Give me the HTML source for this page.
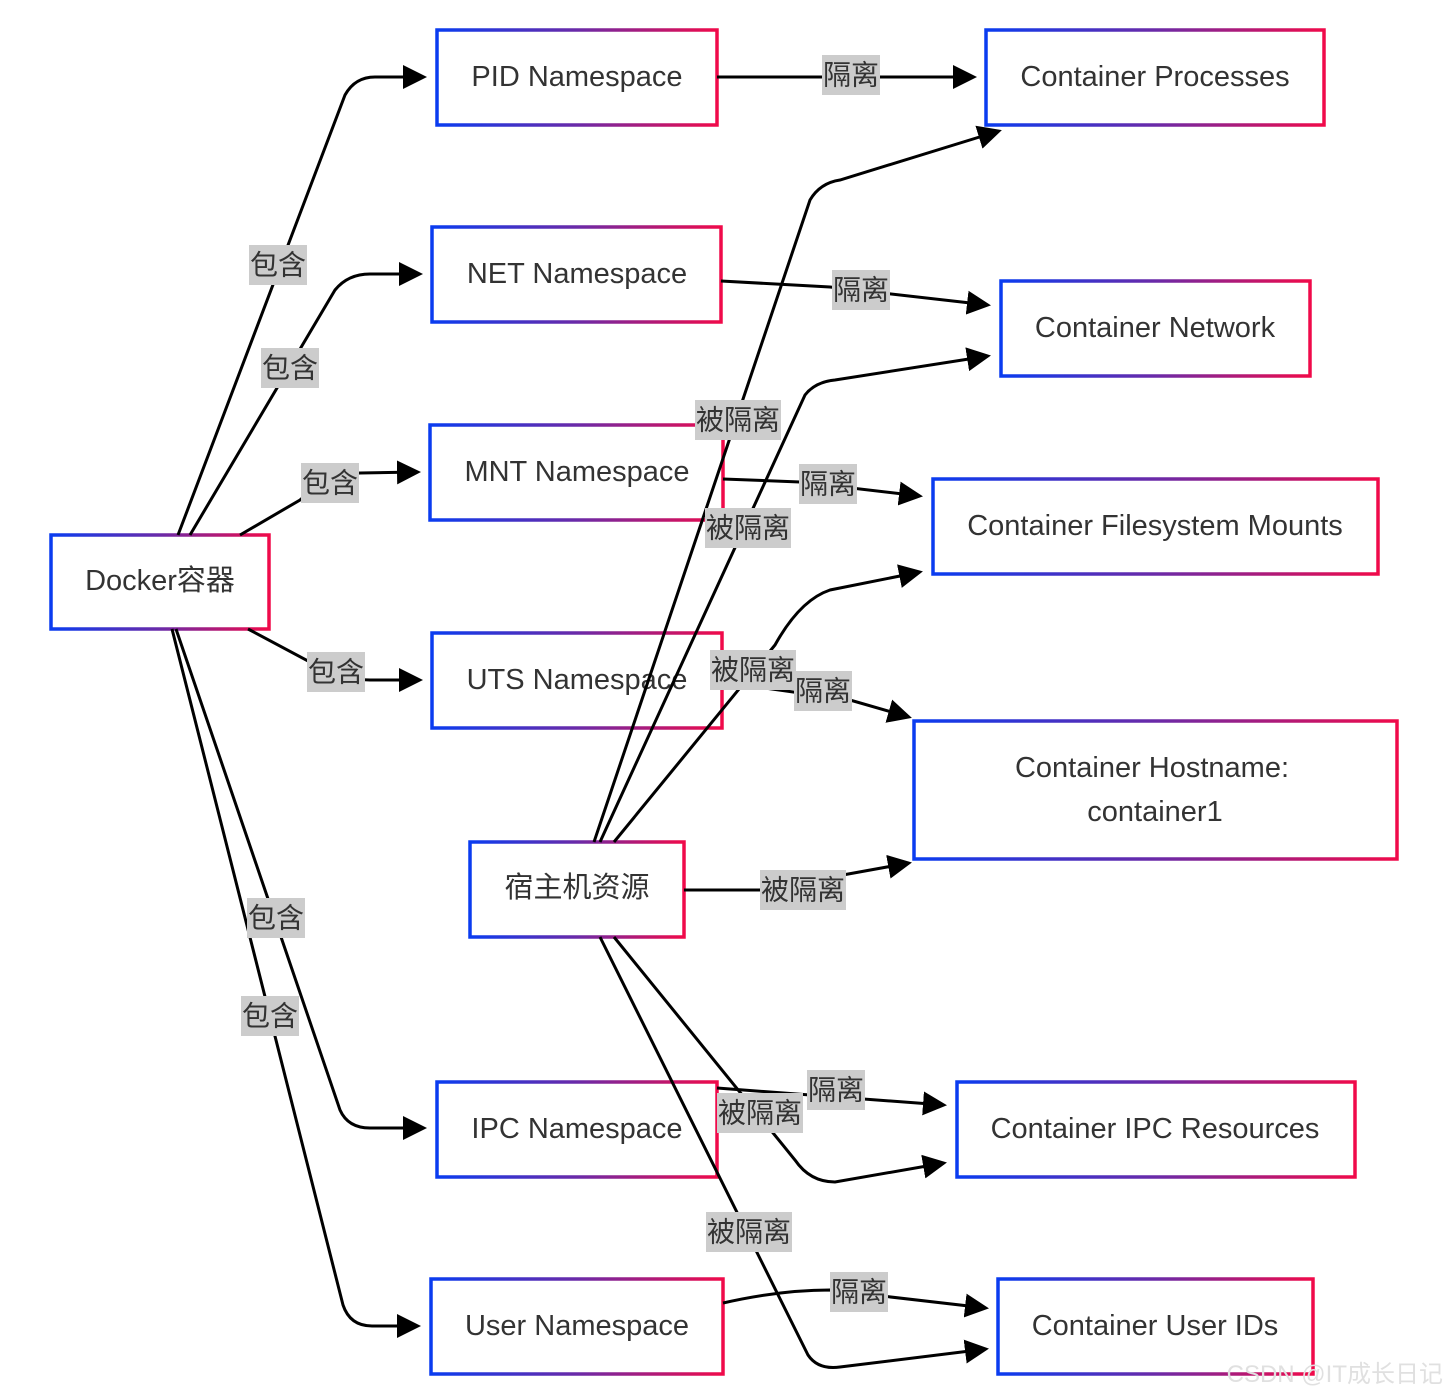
<!DOCTYPE html>
<html><head><meta charset="utf-8"><style>
html,body{margin:0;padding:0;background:#fff;}
svg{display:block;font-family:"Liberation Sans","Noto Sans CJK SC",sans-serif;}
.n{fill:#fff;stroke:url(#g);stroke-width:3.5;}
.t{font-size:29px;fill:#333;text-anchor:middle;dominant-baseline:central;}
.e{fill:none;stroke:#000;stroke-width:3;marker-end:url(#a);}
.lb{fill:#cccccc;}
.lt{font-size:28px;fill:#333;text-anchor:middle;dominant-baseline:central;}
</style></head><body>
<svg width="1448" height="1398" viewBox="0 0 1448 1398">
<defs>
<linearGradient id="g" x1="0" y1="0" x2="1" y2="0"><stop offset="0" stop-color="#0a3cf0"/><stop offset="0.5" stop-color="#6a2aa8"/><stop offset="1" stop-color="#f00a4a"/></linearGradient>
<marker id="a" markerWidth="8" markerHeight="8" refX="7" refY="4" orient="auto" markerUnits="strokeWidth"><path d="M0,0 L8,4 L0,8 z" fill="#000"/></marker>
</defs>
<!-- nodes -->
<rect class="n" x="437" y="30" width="280" height="95"/><text class="t" x="577" y="77">PID Namespace</text>
<rect class="n" x="432" y="227" width="289" height="95"/><text class="t" x="577" y="274">NET Namespace</text>
<rect class="n" x="430" y="425" width="293" height="95"/><text class="t" x="577" y="472">MNT Namespace</text>
<rect class="n" x="432" y="633" width="290" height="95"/><text class="t" x="577" y="680">UTS Namespace</text>
<rect class="n" x="437" y="1082" width="280" height="95"/><text class="t" x="577" y="1129">IPC Namespace</text>
<rect class="n" x="431" y="1279" width="292" height="95"/><text class="t" x="577" y="1326">User Namespace</text>
<rect class="n" x="51" y="535" width="218" height="94"/><text class="t" x="160" y="581">Docker容器</text>
<rect class="n" x="470" y="842" width="214" height="95"/><text class="t" x="577" y="888">宿主机资源</text>
<rect class="n" x="986" y="30" width="338" height="95"/><text class="t" x="1155" y="77">Container Processes</text>
<rect class="n" x="1001" y="281" width="309" height="95"/><text class="t" x="1155" y="328">Container Network</text>
<rect class="n" x="933" y="479" width="445" height="95"/><text class="t" x="1155" y="526">Container Filesystem Mounts</text>
<rect class="n" x="914" y="721" width="483" height="138"/><text class="t" x="1152" y="768">Container Hostname:</text><text class="t" x="1155" y="812">container1</text>
<rect class="n" x="957" y="1082" width="398" height="95"/><text class="t" x="1155" y="1129">Container IPC Resources</text>
<rect class="n" x="998" y="1279" width="315" height="95"/><text class="t" x="1155" y="1326">Container User IDs</text>
<!-- edges -->
<path class="e" d="M178,535 L345,95 Q355,77 375,77 L424,77"/>
<path class="e" d="M190,535 L335,290 Q348,274 370,274 L420,274"/>
<path class="e" d="M240,535 L300,500 Q330,473 360,473 L418,472"/>
<path class="e" d="M248,629 L310,662 Q340,680 370,680 L420,680"/>
<path class="e" d="M176,629 L340,1110 Q348,1128 370,1128 L424,1128"/>
<path class="e" d="M172,629 L343,1305 Q350,1326 372,1326 L418,1326"/>
<path class="e" d="M717,77 L974,77"/>
<path class="e" d="M721,281 L830,287 L988,305"/>
<path class="e" d="M723,479 L800,482 L920,496"/>
<path class="e" d="M722,682 L850,700 L909,717"/>
<path class="e" d="M717,1088 L944,1105"/>
<path class="e" d="M723,1303 Q780,1290 830,1290 L986,1308"/>
<path class="e" d="M594,842 L810,200 Q820,183 840,180 L999,131"/>
<path class="e" d="M600,842 L805,395 Q815,382 835,380 L988,356"/>
<path class="e" d="M614,842 L775,645 Q800,600 830,590 L920,572"/>
<path class="e" d="M684,890 L760,890 L909,863"/>
<path class="e" d="M614,937 L795,1160 Q810,1182 835,1182 L944,1163"/>
<path class="e" d="M600,937 L808,1355 Q818,1370 840,1367 L986,1349"/>
<!-- labels -->
<g>
<rect class="lb" x="249" y="245" width="58" height="40"/><text class="lt" x="278" y="265">包含</text>
<rect class="lb" x="261" y="348" width="58" height="40"/><text class="lt" x="290" y="368">包含</text>
<rect class="lb" x="301" y="463" width="58" height="40"/><text class="lt" x="330" y="483">包含</text>
<rect class="lb" x="307" y="652" width="58" height="40"/><text class="lt" x="336" y="672">包含</text>
<rect class="lb" x="247" y="898" width="58" height="40"/><text class="lt" x="276" y="918">包含</text>
<rect class="lb" x="241" y="996" width="58" height="40"/><text class="lt" x="270" y="1016">包含</text>
<rect class="lb" x="822" y="55" width="58" height="40"/><text class="lt" x="851" y="75">隔离</text>
<rect class="lb" x="832" y="270" width="58" height="40"/><text class="lt" x="861" y="290">隔离</text>
<rect class="lb" x="695" y="400" width="86" height="40"/><text class="lt" x="738" y="420">被隔离</text>
<rect class="lb" x="799" y="464" width="58" height="40"/><text class="lt" x="828" y="484">隔离</text>
<rect class="lb" x="705" y="508" width="86" height="40"/><text class="lt" x="748" y="528">被隔离</text>
<rect class="lb" x="710" y="650" width="86" height="40"/><text class="lt" x="753" y="670">被隔离</text>
<rect class="lb" x="794" y="671" width="58" height="40"/><text class="lt" x="823" y="691">隔离</text>
<rect class="lb" x="760" y="870" width="86" height="40"/><text class="lt" x="803" y="890">被隔离</text>
<rect class="lb" x="807" y="1070" width="58" height="40"/><text class="lt" x="836" y="1090">隔离</text>
<rect class="lb" x="717" y="1093" width="86" height="40"/><text class="lt" x="760" y="1113">被隔离</text>
<rect class="lb" x="706" y="1212" width="86" height="40"/><text class="lt" x="749" y="1232">被隔离</text>
<rect class="lb" x="830" y="1272" width="58" height="40"/><text class="lt" x="859" y="1292">隔离</text>
</g>
<text x="1443" y="1382" font-size="24" fill="#e0e0e0" text-anchor="end">CSDN @IT成长日记</text>
</svg>
</body></html>
